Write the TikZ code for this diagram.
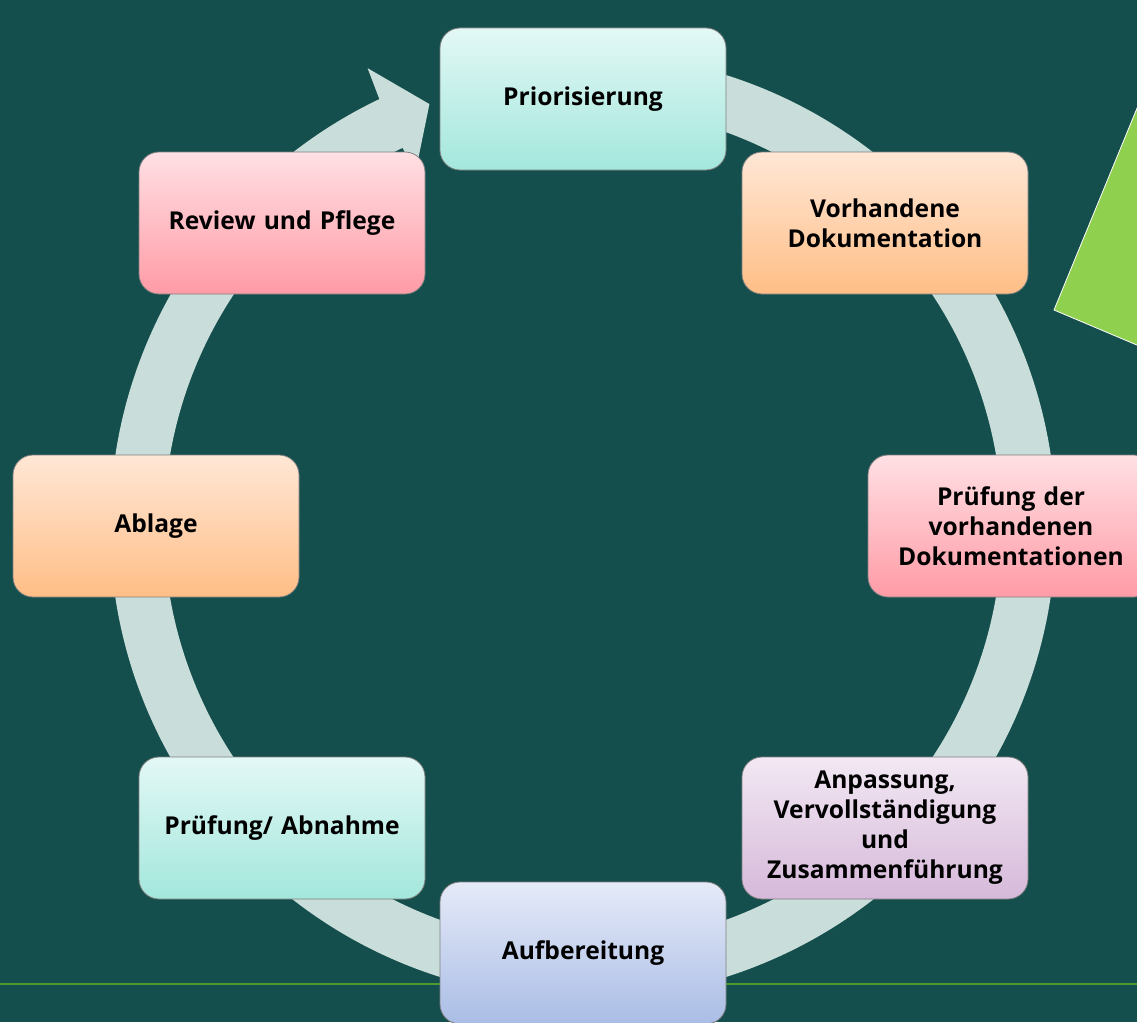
\documentclass[tikz,border=0pt]{standalone}
\usepackage{fontspec}
\setmainfont{Open Sans}
\definecolor{bgc}{HTML}{154F4D}
\definecolor{ringc}{HTML}{C9DDDA}
\definecolor{greenc}{HTML}{8FD14F}
\definecolor{linec}{HTML}{4E9A2F}
\definecolor{tealT}{HTML}{E3F8F6}\definecolor{tealB}{HTML}{A3E7DC}
\definecolor{oraT}{HTML}{FFE7D6}\definecolor{oraB}{HTML}{FFBE86}
\definecolor{pinkT}{HTML}{FFE0E4}\definecolor{pinkB}{HTML}{FF9BA6}
\definecolor{lavT}{HTML}{F2E8F3}\definecolor{lavB}{HTML}{D6B9DA}
\definecolor{bluT}{HTML}{E5EAF8}\definecolor{bluB}{HTML}{AABDE5}
\definecolor{edgec}{HTML}{7F7F7F}
\tikzset{
  stepbox/.style={rectangle, rounded corners=20pt, minimum width=286pt, minimum height=142pt,
    inner sep=0pt, draw=edgec, line width=0.8pt, text width=270pt, align=center,
    font=\fontsize{24.6}{30}\selectfont\bfseries, text=black},
  tealbox/.style={stepbox, top color=tealT, bottom color=tealB},
  orabox/.style={stepbox, top color=oraT, bottom color=oraB},
  pinkbox/.style={stepbox, top color=pinkT, bottom color=pinkB},
  lavbox/.style={stepbox, top color=lavT, bottom color=lavB},
  blubox/.style={stepbox, top color=bluT, bottom color=bluB},
}
\begin{document}
\begin{tikzpicture}[x=1pt,y=-1pt]
\useasboundingbox (0,0) rectangle (1137,1022);
\fill[bgc] (0,0) rectangle (1137,1022);
% ring arrow
\begin{scope}[shift={(583,526)}]
\fill[ringc] (-85:473) arc[start angle=-85, end angle=244.5, radius=473]
  -- (244.8:506) -- (250:449) -- (244.5:390) -- (244.5:419)
  arc[start angle=244.5, end angle=-85, radius=419] -- cycle;
\end{scope}
% green line
\coordinate (la) at (0,984);
\coordinate (lb) at (1137,984);
\draw[linec, line width=1.6pt] (la) -- (lb);
% boxes
\node[tealbox] (n1) at (583,99) {Priorisierung};
\node[orabox]  (n2) at (885,223) {Vorhandene\\Dokumentation};
\node[pinkbox] (n3) at (1011,526) {Prüfung der\\vorhandenen\\Dokumentationen};
\node[lavbox]  (n4) at (885,828) {Anpassung,\\Vervollständigung\\und\\Zusammenführung};
\node[blubox]  (n5) at (583,953) {Aufbereitung};
\node[tealbox] (n6) at (282,828) {Prüfung/ Abnahme};
\node[orabox]  (n7) at (156,526) {Ablage};
\node[pinkbox] (n8) at (282,223) {Review und Pflege};
% green triangle
\fill[greenc, draw=white, line width=0.8pt] (1054,310) -- (1177,11) -- (1177,362) -- cycle;
\end{tikzpicture}
\end{document}
